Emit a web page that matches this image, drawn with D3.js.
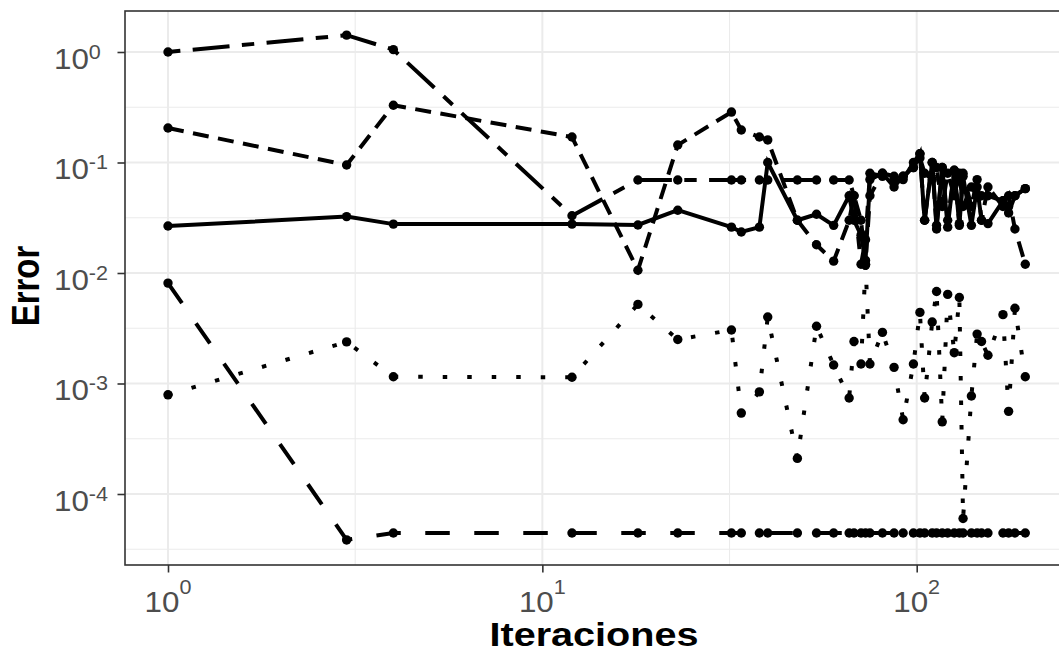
<!DOCTYPE html>
<html>
<head>
<meta charset="utf-8">
<script src="https://cdn.jsdelivr.net/npm/d3@7"></script>
<style>
  body { margin: 0; background: #fff; }
  text { font-family: "Liberation Sans", Arial, sans-serif; }
</style>
</head>
<body>
<svg id="chart" width="1059" height="653"></svg>
<script>
// iterations where every method was sampled
var iters = [1, 3, 4, 12, 18, 23, 32, 34, 38, 40, 48, 54, 60, 66, 68, 71, 73, 75, 81, 87,
             92, 98, 102, 105, 110, 113, 117, 121, 126, 130, 133, 140, 145, 149, 155, 170, 176, 183, 195];

var errSolid = [0.0266, 0.0324, 0.0277, 0.0277, 0.0272, 0.037, 0.026, 0.0235, 0.026, 0.10,
                0.030, 0.034, 0.027, 0.05, 0.03, 0.022, 0.013, 0.07, 0.08, 0.06,
                0.075, 0.09, 0.12, 0.03, 0.1, 0.027, 0.09, 0.026, 0.085, 0.027,
                0.075, 0.027, 0.06, 0.03, 0.028, 0.045, 0.035, 0.05, 0.058];

var errDash = [0.205, 0.095, 0.33, 0.17, 0.0106, 0.144, 0.286, 0.197, 0.17, 0.16,
               0.03, 0.018, 0.0128, 0.03, 0.05, 0.03, 0.012, 0.05, 0.08, 0.075,
               0.07, 0.1, 0.12, 0.03, 0.1, 0.025, 0.09, 0.03, 0.085, 0.028,
               0.08, 0.04, 0.07, 0.03, 0.06, 0.04, 0.05, 0.025, 0.012];

var errTwoDash = [1.0, 1.42, 1.05, 0.033, 0.0695, 0.0695, 0.0695, 0.0695, 0.0695, 0.0695,
                  0.0695, 0.0695, 0.0695, 0.0695, 0.05, 0.012, 0.02, 0.08, 0.075, 0.07,
                  0.075, 0.09, 0.11, 0.08, 0.07, 0.09, 0.04, 0.08, 0.05, 0.08,
                  0.04, 0.06, 0.05, 0.05, 0.05, 0.045, 0.04, 0.05, 0.058];

var errDotted = [0.00079, 0.00238, 0.00115, 0.00114, 0.0052, 0.0025, 0.00305, 0.00054, 0.00084, 0.004,
                 0.00021, 0.0033, 0.00147, 0.00074, 0.0024, 0.0015, 0.0118, 0.0015, 0.0029, 0.0014,
                 0.00047, 0.0015, 0.0044, 0.00074, 0.0036, 0.0068, 0.00045, 0.0064, 0.0019, 0.006,
                 0.00006, 0.00077, 0.0028, 0.0024, 0.0018, 0.0042, 0.00056, 0.0048, 0.00115];

var errDashed = [0.0081, 0.0000384, 0.0000444, 0.0000444, 0.0000444, 0.0000444, 0.0000444, 0.0000444, 0.0000444, 0.0000444,
                 0.0000444, 0.0000444, 0.0000444, 0.0000444, 0.0000444, 0.0000444, 0.0000444, 0.0000444, 0.0000444, 0.0000444,
                 0.0000444, 0.0000444, 0.0000444, 0.0000444, 0.0000444, 0.0000444, 0.0000444, 0.0000444, 0.0000444, 0.0000444,
                 0.0000444, 0.0000444, 0.0000444, 0.0000444, 0.0000444, 0.0000444, 0.0000444, 0.0000444, 0.0000444];

var xTicks = [1, 10, 100];
var xTickExp = ["0", "1", "2"];
var yTicks = [1, 0.1, 0.01, 0.001, 0.0001];
var yTickExp = ["0", "-1", "-2", "-3", "-4"];

var series = [
    {vals: errSolid,   dash: null},
    {vals: errDash,    dash: "16 9.5"},
    {vals: errTwoDash, dash: "12.4 12.4 37 12.4"},
    {vals: errDotted,  dash: "4.5 20"},
    {vals: errDashed,  dash: "24.5 24.5"}
];

var svg = d3.select("#chart");
var pLeft = 125, pRight = 1068, pTop = 11, pBottom = 565;
var stretch = 1.2; // picture is a bit wider than tall

var x = d3.scaleLog().domain([1, 100]).range([168, 916.7]);
var y = d3.scaleLog().domain([1e-4, 1]).range([494, 52]);

// grid
var xMinor = [Math.sqrt(10), Math.sqrt(1000)];
var yMinor = [Math.sqrt(10), Math.sqrt(0.1), Math.sqrt(0.001), Math.sqrt(1e-5), Math.sqrt(1e-7), Math.sqrt(1e-9)];
var grid = svg.append("g");
grid.selectAll(".xmin").data(xMinor).enter().append("line")
    .attr("x1", x).attr("x2", x).attr("y1", pTop).attr("y2", pBottom)
    .attr("stroke", "#EBEBEB").attr("stroke-width", 1.1);
grid.selectAll(".ymin").data(yMinor).enter().append("line")
    .attr("y1", y).attr("y2", y).attr("x1", pLeft).attr("x2", pRight)
    .attr("stroke", "#EBEBEB").attr("stroke-width", 1.1);
grid.selectAll(".xmaj").data(xTicks).enter().append("line")
    .attr("x1", x).attr("x2", x).attr("y1", pTop).attr("y2", pBottom)
    .attr("stroke", "#EBEBEB").attr("stroke-width", 2);
grid.selectAll(".ymaj").data(yTicks).enter().append("line")
    .attr("y1", y).attr("y2", y).attr("x1", pLeft).attr("x2", pRight)
    .attr("stroke", "#EBEBEB").attr("stroke-width", 2);

// lines + points
svg.append("clipPath").attr("id", "clip").append("rect")
    .attr("x", pLeft).attr("y", pTop).attr("width", pRight - pLeft).attr("height", pBottom - pTop);
var plot = svg.append("g").attr("clip-path", "url(#clip)");

var line = d3.line()
    .x(function(d, i){ return x(iters[i]); })
    .y(function(d){ return y(d); });

series.forEach(function(s){
    plot.append("path")
        .attr("d", line(s.vals))
        .attr("fill", "none")
        .attr("stroke", "#000")
        .attr("stroke-width", 4)
        .attr("stroke-dasharray", s.dash);
});
series.forEach(function(s){
    plot.selectAll(null).data(s.vals).enter().append("circle")
        .attr("cx", function(d, i){ return x(iters[i]); })
        .attr("cy", function(d){ return y(d); })
        .attr("r", 4.7)
        .attr("fill", "#000");
});

// panel border
svg.append("rect")
    .attr("x", pLeft).attr("y", pTop).attr("width", pRight - pLeft).attr("height", pBottom - pTop)
    .attr("fill", "none").attr("stroke", "#333333").attr("stroke-width", 1.6);

// axes (ticks only, labels built by hand for the superscripts)
var xAxis = svg.append("g").attr("transform", "translate(0," + pBottom + ")")
    .call(d3.axisBottom(x).tickValues(xTicks).tickSize(7.5).tickFormat(function(){ return ""; }));
var yAxis = svg.append("g").attr("transform", "translate(" + pLeft + ",0)")
    .call(d3.axisLeft(y).tickValues(yTicks).tickSize(7.5).tickFormat(function(){ return ""; }));
[xAxis, yAxis].forEach(function(a){
    a.select(".domain").remove();
    a.selectAll("line").attr("stroke", "#333333").attr("stroke-width", 1.6);
});

xTicks.forEach(function(v, i){
    var t = svg.append("text")
        .attr("transform", "translate(" + x(v) + ",612) scale(1.08,1)")
        .attr("text-anchor", "middle")
        .attr("fill", "#4D4D4D")
        .attr("font-size", 29);
    t.append("tspan").text("10");
    t.append("tspan").attr("dy", -18).attr("font-size", 20).text(xTickExp[i]);
});

yTicks.forEach(function(v, i){
    var t = svg.append("text")
        .attr("transform", "translate(54," + (y(v) + 16.5) + ") scale(1.08,1)")
        .attr("text-anchor", "start")
        .attr("fill", "#4D4D4D")
        .attr("font-size", 29);
    t.append("tspan").text("10");
    t.append("tspan").attr("dy", -10).attr("font-size", 20).text(yTickExp[i]);
});

// axis titles
svg.append("text")
    .attr("transform", "translate(594,646) scale(" + stretch + ",1)")
    .attr("text-anchor", "middle")
    .attr("font-weight", "bold")
    .attr("font-size", 33)
    .text("Iteraciones");

svg.append("text")
    .attr("transform", "translate(39,286) scale(" + stretch + ",1) rotate(-90)")
    .attr("text-anchor", "middle")
    .attr("font-weight", "bold")
    .attr("font-size", 33)
    .text("Error");
</script>
</body>
</html>
